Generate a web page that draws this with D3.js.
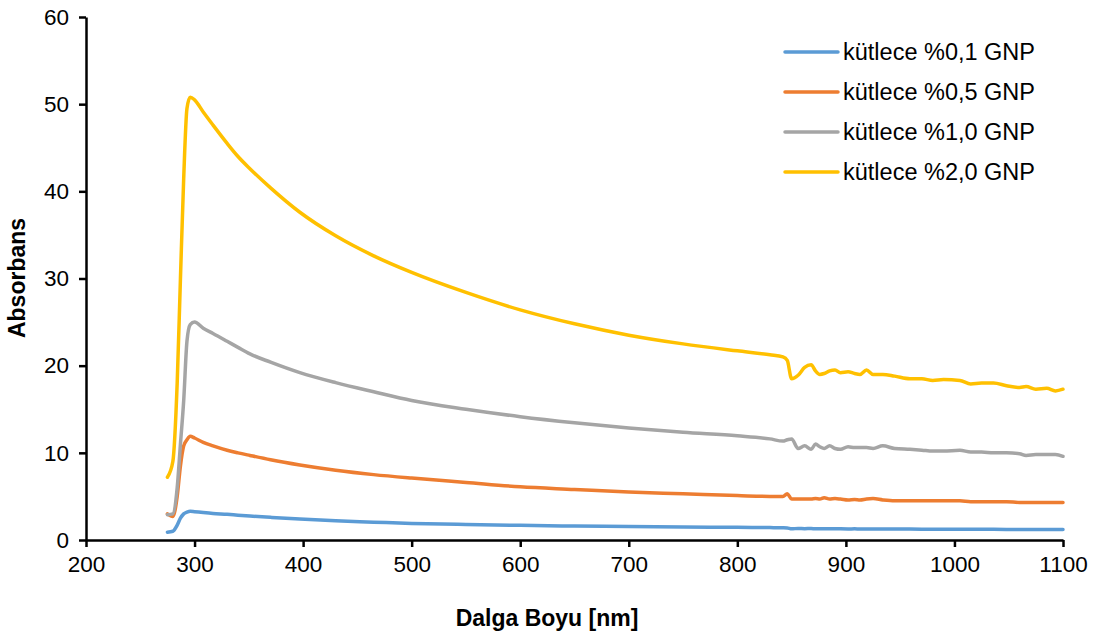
<!DOCTYPE html>
<html>
<head>
<meta charset="utf-8">
<script src="https://cdn.jsdelivr.net/npm/d3@7/dist/d3.min.js"></script>
<style>
  html, body { margin: 0; padding: 0; background: #fff; }
  svg { display: block; font-family: "Liberation Sans", Arial, sans-serif; }
</style>
</head>
<body>
<svg id="chart" width="1102" height="637"></svg>
<script>
// Wavelength grid (nm)
const wavelengths = [275, 280, 284, 287, 290, 293, 296, 300, 308, 317, 330, 340, 351, 370, 397, 430, 465, 500, 550, 600, 650, 700, 750, 800, 830, 842, 846, 850, 856, 862, 868, 872, 876, 880, 885, 890, 895, 902, 908, 913, 919, 925, 934, 945, 959, 970, 980, 990, 1005, 1015, 1025, 1036, 1048, 1060, 1066, 1075, 1085, 1093, 1100];

// Absorbance per sample
const gnp01 = [0.9, 1.0, 1.7, 2.5, 3.0, 3.2, 3.3, 3.25, 3.15, 3.05, 2.95, 2.85, 2.75, 2.6, 2.4, 2.2, 2.05, 1.9, 1.78, 1.68, 1.6, 1.55, 1.5, 1.45, 1.42, 1.4, 1.38, 1.28, 1.33, 1.3, 1.32, 1.28, 1.28, 1.3, 1.28, 1.3, 1.28, 1.27, 1.28, 1.27, 1.27, 1.27, 1.26, 1.25, 1.25, 1.24, 1.24, 1.24, 1.23, 1.23, 1.22, 1.22, 1.21, 1.21, 1.2, 1.2, 1.2, 1.2, 1.2];
const gnp05 = [3.0, 2.7, 5.0, 8.5, 10.8, 11.5, 11.9, 11.7, 11.2, 10.8, 10.3, 10.0, 9.7, 9.2, 8.6, 8.0, 7.5, 7.1, 6.6, 6.1, 5.8, 5.5, 5.3, 5.1, 5.0, 5.0, 5.3, 4.7, 4.7, 4.7, 4.7, 4.75, 4.7, 4.85, 4.7, 4.75, 4.7, 4.6, 4.65, 4.6, 4.7, 4.75, 4.6, 4.5, 4.5, 4.5, 4.5, 4.5, 4.5, 4.4, 4.4, 4.4, 4.4, 4.3, 4.3, 4.3, 4.3, 4.3, 4.3];
const gnp10 = [2.9, 3.0, 6.0, 11.0, 16.0, 22.8, 24.7, 25.0, 24.3, 23.7, 22.8, 22.1, 21.35, 20.4, 19.2, 18.05, 17.0, 16.0, 15.0, 14.15, 13.45, 12.85, 12.35, 11.95, 11.6, 11.35, 11.5, 11.6, 10.5, 10.8, 10.4, 11.0, 10.7, 10.5, 10.8, 10.5, 10.4, 10.7, 10.6, 10.6, 10.6, 10.5, 10.8, 10.5, 10.4, 10.3, 10.2, 10.2, 10.3, 10.1, 10.1, 10.0, 10.0, 9.9, 9.7, 9.8, 9.8, 9.8, 9.6];
const gnp20 = [7.2, 9.0, 18.0, 30.0, 41.5, 49.5, 50.8, 50.5, 49.1, 47.6, 45.5, 44.0, 42.6, 40.4, 37.6, 34.9, 32.6, 30.7, 28.4, 26.4, 24.8, 23.5, 22.5, 21.7, 21.25, 21.0, 20.6, 18.5, 18.9, 19.8, 20.1, 19.4, 19.0, 19.1, 19.4, 19.5, 19.2, 19.3, 19.1, 19.0, 19.5, 19.0, 19.0, 18.8, 18.5, 18.5, 18.3, 18.4, 18.3, 17.9, 18.0, 18.0, 17.7, 17.5, 17.6, 17.3, 17.4, 17.1, 17.3];

const seriesNames = ["kütlece %0,1 GNP", "kütlece %0,5 GNP", "kütlece %1,0 GNP", "kütlece %2,0 GNP"];
const seriesColors = ["#5B9BD5", "#ED7D31", "#A5A5A5", "#FFC000"];
const xTicks = [200, 300, 400, 500, 600, 700, 800, 900, 1000, 1100];
const yTicks = [0, 10, 20, 30, 40, 50, 60];

const series = [gnp01, gnp05, gnp10, gnp20].map((vals, i) => ({
  name: seriesNames[i],
  color: seriesColors[i],
  points: wavelengths.map((w, j) => ({ x: w, y: vals[j] }))
}));

const svg = d3.select("#chart");
const plotLeft = 86, plotRight = 1063, plotTop = 17, plotBottom = 540;

const x = d3.scaleLinear().domain([200, 1100]).range([plotLeft, plotRight]);
const y = d3.scaleLinear().domain([0, 60]).range([plotBottom, plotTop]);

// Smoothed spectra
const line = d3.line()
  .x(d => x(d.x))
  .y(d => y(d.y))
  .curve(d3.curveMonotoneX);

svg.append("g")
  .selectAll("path")
  .data(series)
  .join("path")
  .attr("d", d => line(d.points))
  .attr("fill", "none")
  .attr("stroke", d => d.color)
  .attr("stroke-width", 3.5)
  .attr("stroke-linejoin", "round")
  .attr("stroke-linecap", "round");

// Axes
const fmt = d3.format("d");
const xAxis = svg.append("g")
  .attr("transform", `translate(0,${plotBottom})`)
  .call(d3.axisBottom(x).tickValues(xTicks).tickFormat(fmt).tickSize(7).tickSizeOuter(0).tickPadding(9));
const yAxis = svg.append("g")
  .attr("transform", `translate(${plotLeft},0)`)
  .call(d3.axisLeft(y).tickValues(yTicks).tickFormat(fmt).tickSize(7).tickSizeOuter(0).tickPadding(10));

[xAxis, yAxis].forEach(g => {
  g.select(".domain").attr("stroke", "#000").attr("stroke-width", 2.5);
  g.selectAll(".tick line").attr("stroke", "#000").attr("stroke-width", 2.5);
  g.selectAll(".tick text")
    .attr("fill", "#000")
    .style("font-family", "'Liberation Sans', Arial, sans-serif")
    .style("font-size", "22.5px");
});

// Axis titles
svg.append("text")
  .attr("x", 547).attr("y", 626)
  .attr("text-anchor", "middle")
  .style("font-size", "23px").style("font-weight", "bold")
  .text("Dalga Boyu [nm]");

svg.append("text")
  .attr("transform", "translate(25,278) rotate(-90)")
  .attr("text-anchor", "middle")
  .style("font-size", "23px").style("font-weight", "bold")
  .text("Absorbans");

// Legend
const legend = svg.append("g")
  .selectAll("g")
  .data(series)
  .join("g")
  .attr("transform", (d, i) => `translate(785,${52 + i * 40})`);

legend.append("line")
  .attr("x1", 0).attr("x2", 53)
  .attr("stroke", d => d.color)
  .attr("stroke-width", 3.5)
  .attr("stroke-linecap", "round");

legend.append("text")
  .attr("x", 58).attr("dy", "0.36em")
  .style("font-size", "23.5px")
  .text(d => d.name);
</script>
</body>
</html>
